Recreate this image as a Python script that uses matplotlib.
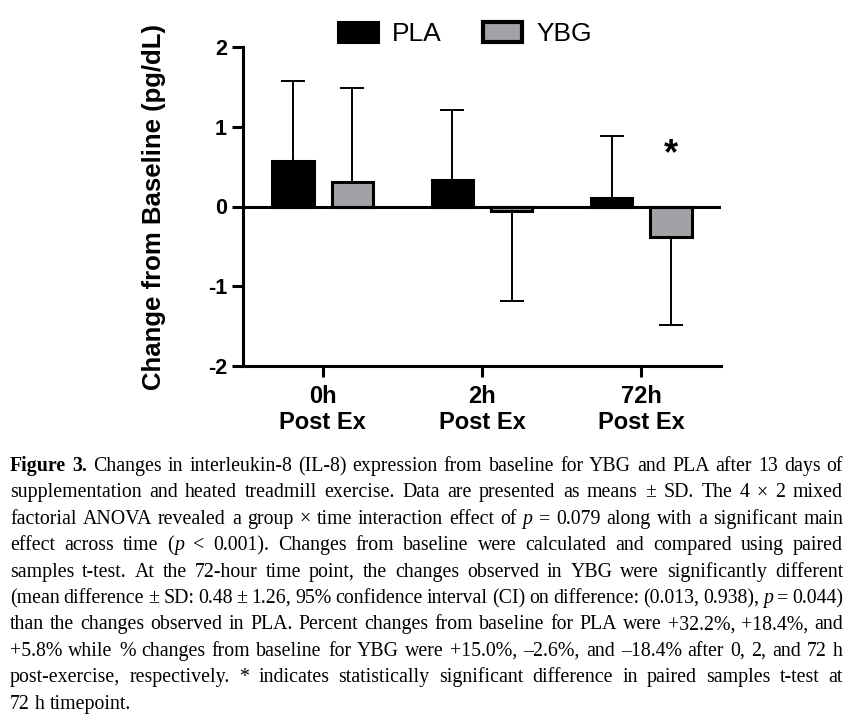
import matplotlib
matplotlib.use('Agg')
import matplotlib.pyplot as plt
import numpy as np
from matplotlib.patches import Patch

plt.rcParams['font.family'] = ['Liberation Sans', 'DejaVu Sans']
plt.rcParams['axes.unicode_minus'] = False

# ---------------- data ----------------
groups = ['0h\nPost Ex', '2h\nPost Ex', '72h\nPost Ex']
series = ['PLA', 'YBG']
pla_mean = [0.57, 0.33, 0.11]
pla_sd = [1.00, 0.88, 0.77]
ybg_mean = [0.31, -0.06, -0.38]
ybg_sd = [1.18, 1.12, 1.10]
yticks = [-2, -1, 0, 1, 2]
ylabel = 'Change from Baseline (pg/dL)'
sig_group = 2
sig_y = 0.65

caption_lines = [
    "Figure 3. Changes in interleukin-8 (IL-8) expression from baseline for YBG and PLA after 13 days of",
    "supplementation and heated treadmill exercise. Data are presented as means \u00b1 SD. The 4 \u00d7 2 mixed",
    "factorial ANOVA revealed a group \u00d7 time interaction effect of p = 0.079 along with a significant main",
    "effect across time (p < 0.001). Changes from baseline were calculated and compared using paired",
    "samples t-test. At the 72-hour time point, the changes observed in YBG were significantly different",
    "(mean difference \u00b1 SD: 0.48 \u00b1 1.26, 95% confidence interval (CI) on difference: (0.013, 0.938), p = 0.044)",
    "than the changes observed in PLA. Percent changes from baseline for PLA were +32.2%, +18.4%, and",
    "+5.8% while % changes from baseline for YBG were +15.0%, \u20132.6%, and \u201318.4% after 0, 2, and 72 h",
    "post-exercise, respectively. * indicates statistically significant difference in paired samples t-test at",
    "72 h timepoint.",
]

W, H = 862, 722
fig = plt.figure(figsize=(W / 100, H / 100), dpi=100)
ax = fig.add_axes([243 / W, 1 - 366 / H, (721 - 243) / W, (366 - 47) / H])

x = np.arange(len(groups))
off = 0.186
bw = 0.258
edge_lw = 2.2
grey = '#a2a2a6'

ax.bar(x - off, pla_mean, bw, color='black', edgecolor='black', linewidth=edge_lw, zorder=3)
ax.bar(x + off, ybg_mean, bw, color=grey, edgecolor='black', linewidth=edge_lw, zorder=3)


def one_sided(m, s):
    lo = [sv if mv < 0 else 0 for mv, sv in zip(m, s)]
    hi = [sv if mv >= 0 else 0 for mv, sv in zip(m, s)]
    return [lo, hi]


for xs, m, s in [(x - off, pla_mean, pla_sd), (x + off, ybg_mean, ybg_sd)]:
    ax.errorbar(xs, m, yerr=one_sided(m, s), fmt='none', ecolor='black',
                elinewidth=1.4, capsize=8.5, capthick=1.4, zorder=2)

ax.axhline(0, color='black', lw=edge_lw, zorder=4)

ax.set_xlim(-0.5, 2.5)
ax.set_ylim(-2, 2)
ax.set_yticks(yticks)
ax.set_yticklabels([str(v) for v in yticks])
ax.set_xticks(x)
ax.set_xticklabels(groups, linespacing=1.15)
for sp in ['top', 'right']:
    ax.spines[sp].set_visible(False)
for sp in ['left', 'bottom']:
    ax.spines[sp].set_linewidth(edge_lw)
ax.tick_params(axis='both', width=edge_lw, length=8, direction='out')
ax.tick_params(axis='y', labelsize=15.5, pad=3.5)
ax.tick_params(axis='x', labelsize=17, pad=6)
for lab in ax.get_yticklabels() + ax.get_xticklabels():
    lab.set_fontweight('bold')
ax.set_ylabel(ylabel, fontsize=18.5, fontweight='bold')
ax.yaxis.set_label_coords((166 - 243) / (721 - 243), 0.5)

ax.text(x[sig_group] + off, sig_y, '*', ha='center', va='center', fontsize=26, fontweight='bold')

handles = [Patch(facecolor='black', edgecolor='black', linewidth=edge_lw),
           Patch(facecolor=grey, edgecolor='black', linewidth=3)]
ax.legend(handles, series, ncol=2, frameon=False, loc='upper left',
          bbox_to_anchor=(338 / W, 1 - 22 / H), bbox_transform=fig.transFigure,
          prop={'size': 19}, handlelength=1.5, handleheight=0.8, handletextpad=0.55,
          columnspacing=1.55, borderpad=0, borderaxespad=0)

# ---------------- caption (justified) ----------------
renderer = fig.canvas.get_renderer()
left_px, right_px = 10, 843
base0, dy = 471, 26.4
serif = 'Liberation Serif'


def tokenize(line, idx):
    words = line.split(' ')
    out = []
    for k, wd in enumerate(words):
        if idx == 0 and k < 2:
            out.append([(wd, 'b')])
        elif wd == 'p':
            out.append([('p', 'i')])
        elif wd == '(p':
            out.append([('(', 'n'), ('p', 'i')])
        else:
            out.append([(wd, 'n')])
    return out


def seg_props(style):
    return dict(fontweight='bold' if style == 'b' else 'normal',
                fontstyle='italic' if style == 'i' else 'normal')


def measure(txt, style, fs):
    t = fig.text(0, 0, txt, fontsize=fs, family=serif, **seg_props(style))
    w = t.get_window_extent(renderer).width
    t.remove()
    return w


fs0 = 16.0
avail = right_px - left_px
toks = [tokenize(l, i) for i, l in enumerate(caption_lines)]
maxneed = 0
for tl in toks[:-1]:
    tot = sum(measure(s, st, fs0) for wd in tl for s, st in wd)
    need = tot + (len(tl) - 1) * 0.2 * fs0 * 100 / 72
    maxneed = max(maxneed, need)
fs = fs0 * min(1.0, avail / maxneed)

for i, tl in enumerate(toks):
    widths = [[measure(s, st, fs) for s, st in wd] for wd in tl]
    wsum = sum(sum(w) for w in widths)
    if i < len(toks) - 1 and len(tl) > 1:
        gap = (avail - wsum) / (len(tl) - 1)
    else:
        gap = 0.25 * fs * 100 / 72
    xp = left_px
    yp = base0 + i * dy
    for wd, ws in zip(tl, widths):
        for (s, st), w in zip(wd, ws):
            fig.text(xp / W, 1 - yp / H, s, fontsize=fs, family=serif, va='baseline',
                     ha='left', **seg_props(st))
            xp += w
        xp += gap

fig.savefig('out.png', dpi=100)
